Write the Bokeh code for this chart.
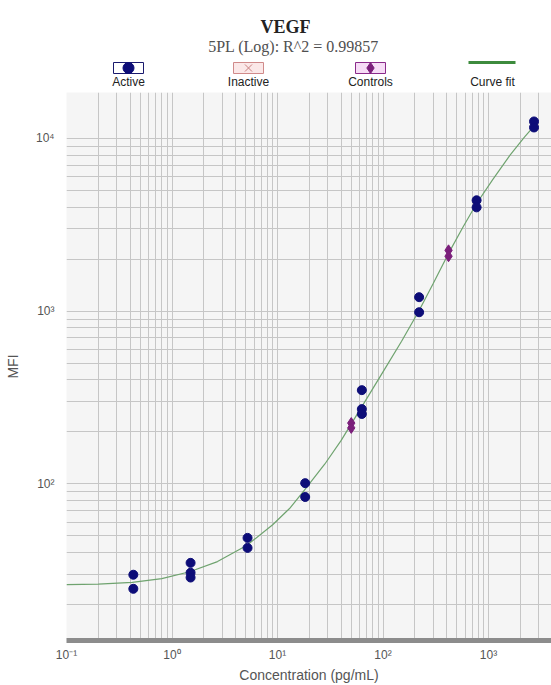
from bokeh.plotting import figure
from bokeh.layouts import column
from bokeh.models import Range1d, FixedTicker, CustomJSTickFormatter
from bokeh.embed import file_html
from bokeh.resources import INLINE
from bokeh.core.properties import value

# ---- data ----
active_conc = [0.43, 0.43, 1.5, 1.5, 1.5, 5.2, 5.2, 18.3, 18.3, 63, 63, 63,
               220, 220, 771, 771, 2700, 2700]
active_mfi = [29.8, 24.7, 34.9, 30.6, 28.7, 48.7, 42.6, 101, 84, 349, 271, 254,
              1205, 986, 4385, 3990, 12540, 11577]
control_conc = [50, 50, 418, 418]
control_mfi = [225, 211, 2250, 2080]
curve_conc = [0.1, 0.2, 0.42, 0.8, 1.47, 2.7, 5.1, 9, 13, 18, 28, 40, 63,
              100, 150, 220, 300, 418, 570, 771, 1100, 1600, 2200, 2700]
curve_mfi = [26.1, 26.3, 26.9, 28.3, 31.0, 35.5, 44, 58, 72, 92, 130, 178, 280,
             445, 670, 1010, 1450, 2160, 3050, 4200, 5800, 8000, 10200, 11800]
x_ticks = [0.1, 1, 10, 100, 1000]
x_tick_labels = ["10\u207b\u00b9", "10\u2070", "10\u00b9", "10\u00b2", "10\u00b3"]
y_ticks = [100, 1000, 10000]
y_tick_labels = ["10\u00b2", "10\u00b3", "10\u2074"]
legend_labels = ["Active", "Inactive", "Controls", "Curve fit"]
title_text = "VEGF"
subtitle_text = "5PL (Log): R^2 = 0.99857"

W = 551
HDR_H = 92
LEFT = 66
SANS = "Liberation Sans"
SERIF = "Liberation Serif"

# ---- header (title + legend); its frame is aligned with the main frame,
#      so its x range is expressed in page pixels from LEFT to W ----
hdr = figure(width=W, height=HDR_H, x_range=Range1d(LEFT, W), y_range=Range1d(HDR_H, 0),
             output_backend="svg", toolbar_location=None, min_border=0,
             min_border_left=LEFT, min_border_right=0,
             x_axis_location=None, y_axis_location=None)
hdr.grid.visible = False
hdr.outline_line_color = None
hdr.background_fill_color = "white"
hdr.border_fill_color = "white"

hdr.text(x=[285], y=[26], text=[title_text], text_font=value(SERIF),
         text_font_size="18px", text_font_style="bold", text_align="center",
         text_baseline="middle", text_color="#222222")
hdr.text(x=[293], y=[46], text=[subtitle_text], text_font=value(SERIF),
         text_font_size="16px", text_align="center", text_baseline="middle",
         text_color="#505050")

# legend boxes
hdr.rect(x=[128], y=[67.5], width=30, height=11, fill_color="white",
         line_color="#1a1a6e", line_width=1)
hdr.scatter(x=[128], y=[67.5], marker="circle", size=11, fill_color="#0d0d78",
            line_color="#0d0d78")
hdr.rect(x=[248], y=[67.5], width=30, height=11, fill_color="#fbe8e8",
         line_color="#d08a8a", line_width=1)
hdr.scatter(x=[248], y=[67.5], marker="x", size=10, line_color="#c98080",
            line_width=1)
hdr.rect(x=[370], y=[67.5], width=30, height=11, fill_color="#f6dcf6",
         line_color="#8a2a8a", line_width=1)
hdr.scatter(x=[370], y=[67.5], marker="diamond", size=11, fill_color="#7b1f7b",
            line_color="#7b1f7b")
hdr.line(x=[468, 515], y=[62, 62], line_color="#3d8b3d", line_width=3)

hdr.text(x=[128, 248, 370, 492], y=[81, 81, 81, 81], text=legend_labels,
         text_font=value(SANS), text_font_size="12px", text_align="center",
         text_baseline="middle", text_color="#222222")

# ---- main plot ----
p = figure(width=W, height=685 - HDR_H, x_axis_type="log", y_axis_type="log",
           x_range=Range1d(0.1, 3954), y_range=Range1d(12.4, 18450),
           output_backend="svg", toolbar_location=None,
           min_border_left=LEFT, min_border_right=0, min_border_top=0,
           min_border_bottom=44)
p.background_fill_color = "#f5f5f5"
p.border_fill_color = "white"
p.outline_line_color = None

x_minor = [m * 10.0 ** e for e in range(-1, 4) for m in range(2, 10)]
y_minor = [m * 10.0 ** e for e in range(1, 5) for m in range(2, 10)]
xt = FixedTicker(ticks=x_ticks, minor_ticks=x_minor)
yt = FixedTicker(ticks=y_ticks, minor_ticks=y_minor)
p.xaxis.ticker = xt
p.yaxis.ticker = yt
p.xgrid.ticker = xt
p.ygrid.ticker = yt

fmt_code = """
for (let i = 0; i < tv.length; i++) {
  if (Math.abs(tv[i] - tick) < 1e-6 * tv[i]) { return tl[i]; }
}
return '';
"""
p.xaxis.formatter = CustomJSTickFormatter(args=dict(tv=x_ticks, tl=x_tick_labels), code=fmt_code)
p.yaxis.formatter = CustomJSTickFormatter(args=dict(tv=y_ticks, tl=y_tick_labels), code=fmt_code)

for g in (p.xgrid, p.ygrid):
    g.grid_line_color = "#c6c6c6"
    g.grid_line_width = 1
    g.minor_grid_line_color = "#c6c6c6"
    g.minor_grid_line_width = 1

for ax in (p.xaxis, p.yaxis):
    ax.major_tick_line_color = None
    ax.minor_tick_line_color = None
    ax.major_tick_out = 0
    ax.major_tick_in = 0
    ax.minor_tick_out = 0
    ax.minor_tick_in = 0
    ax.major_label_text_font = SANS
    ax.major_label_text_font_size = "12px"
    ax.major_label_text_color = "#555555"
    ax.axis_label_text_font = SANS
    ax.axis_label_text_font_size = "14px"
    ax.axis_label_text_font_style = "normal"
    ax.axis_label_text_color = "#555555"

p.xaxis.axis_line_width = 5
p.xaxis.axis_line_color = "#8c8c8c"
p.xaxis.major_label_standoff = 7
p.xaxis.axis_label_standoff = 2
p.xaxis.axis_label = "Concentration (pg/mL)"
p.yaxis.axis_line_color = None
p.yaxis.major_label_standoff = 12
p.yaxis.axis_label = "MFI"
p.yaxis.axis_label_standoff = 12

p.line(curve_conc, curve_mfi, line_color="#6fa36f", line_width=1.2)
p.scatter(active_conc, active_mfi, marker="circle", size=9,
          fill_color="#0d0d78", line_color="#0d0d78")
p.scatter(control_conc, control_mfi, marker="diamond", size=11,
          fill_color="#7b1f7b", line_color="#7b1f7b")

layout = column(hdr, p, spacing=0)
open("out.html", "w").write(file_html(layout, INLINE))
